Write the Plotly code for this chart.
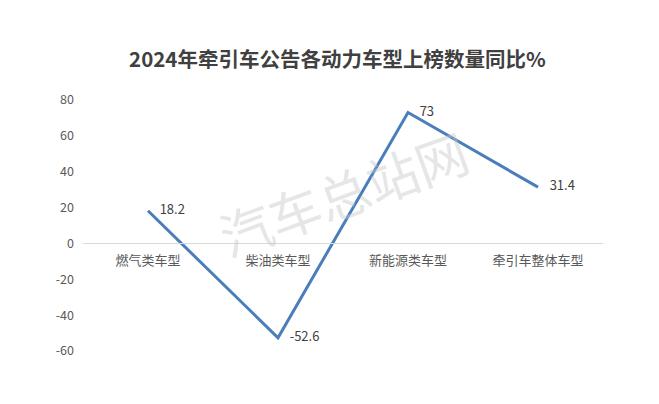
import plotly.graph_objects as go

categories = ["燃气类车型", "柴油类车型", "新能源类车型", "牵引车整体车型"]
values = [18.2, -52.6, 73, 31.4]
label_text = ["18.2", "-52.6", "73", "31.4"]
y_ticks = [-60, -40, -20, 0, 20, 40, 60, 80]
y_tick_text = ["-60", "-40", "-20", "0", "20", "40", "60", "80"]

font_cjk = "Noto Sans CJK SC, Microsoft YaHei, sans-serif"

fig = go.Figure()
fig.add_trace(go.Scatter(
    x=categories, y=values, mode="lines+text",
    line=dict(color="#4A7EBB", width=3),
    text=["    " + t for t in label_text], textposition="middle right",
    textfont=dict(family=font_cjk, size=13, color="#404040"),
    cliponaxis=False, showlegend=False, hoverinfo="skip",
))

fig.update_layout(
    width=651, height=396,
    paper_bgcolor="white", plot_bgcolor="white",
    margin=dict(l=75, r=56, t=92, b=53, autoexpand=False),
    title=dict(text="<b>2024年牵引车公告各动力车型上榜数量同比%</b>",
               x=0.506, xanchor="center", y=0.869, yanchor="middle",
               font=dict(family=font_cjk, size=20.5, color="#404040")),
    xaxis=dict(type="category", range=[-0.5, 3.5], anchor="free", automargin=False,
               position=60 / 140, showline=True, linecolor="#D9D9D9", linewidth=1,
               showgrid=False, ticks="", zeroline=False, ticklabelstandoff=5,
               tickfont=dict(family=font_cjk, size=13, color="#595959")),
    yaxis=dict(range=[-60, 80], tickvals=y_ticks, ticktext=y_tick_text,
               showgrid=False, zeroline=False, automargin=False,
               showline=False, ticks="", ticklabelstandoff=8,
               tickfont=dict(family=font_cjk, size=12.5, color="#595959")),
    annotations=[dict(text="汽车总站网", xref="paper", yref="paper",
                      x=0.5, y=0.633, showarrow=False, textangle=-20,
                      font=dict(family=font_cjk, size=52, color="rgba(200,200,200,0.45)"))],
)

fig.write_html("out.html")
